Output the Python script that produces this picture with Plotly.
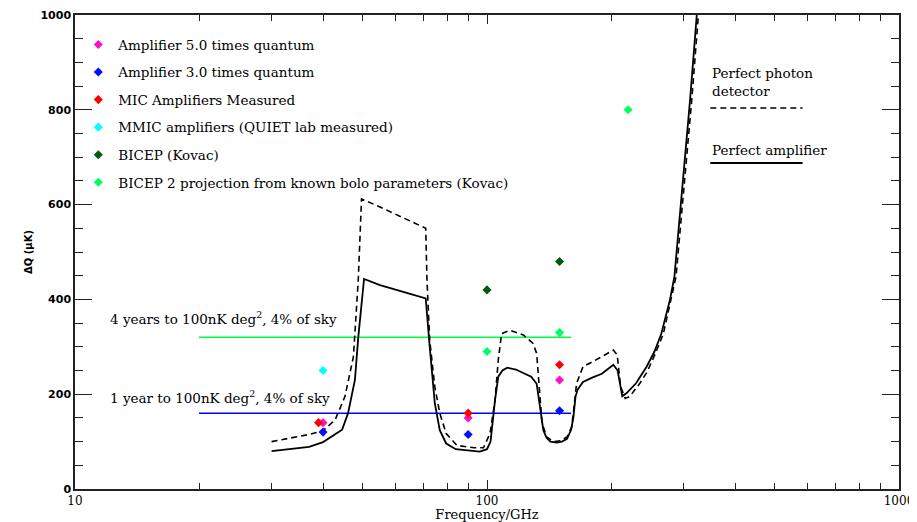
import plotly.graph_objects as go

# ---------------- data ----------------
amp_freq = [30, 37, 40, 43, 44.5, 46, 47.8, 48.7, 49.6, 50.3, 55, 61.5, 66, 71,
            72.6, 74.7, 76.8, 79.6, 84, 90, 96, 100, 102, 104.6, 106.5, 109, 112,
            117.5, 124, 128, 132, 134.5, 137, 139.5, 142.5, 147.7, 152, 156.4, 160,
            162, 164, 166, 171, 180, 190, 202.6, 207.5, 210, 213, 218, 230, 244,
            255, 265, 278, 285, 311, 323, 327]
amp_val = [80, 89, 99, 117, 125, 160, 230, 320, 392, 443, 430, 418, 410, 402,
           300, 181, 124, 96, 84, 81, 79, 84, 100, 188, 237, 250, 256,
           252, 243, 237, 222, 170, 124, 108, 100, 98, 100, 106, 125,
           150, 195, 210, 226, 235, 243, 262, 250, 225, 196, 202, 223, 258,
           290, 328, 399, 448, 820, 1000, 1060]

pho_freq = [30, 37, 40, 42.8, 45.2, 47.4, 48.7, 49.6, 55, 60, 65, 71, 71.5, 72.6,
            74.7, 76.8, 79.6, 84.5, 89.3, 93, 98, 101.7, 104.6, 106.5, 108.5, 113.7,
            122.5, 129.4, 132, 134.5, 136, 139.6, 145, 151, 156.4, 160.6, 163.7, 165,
            171, 181, 202.6, 207, 211, 216.5, 222, 235, 245, 256, 268, 287.6,
            314, 326, 330]
pho_val = [100, 115, 123, 146, 195, 279, 441, 612, 595, 580, 566, 550, 441, 314,
           216, 160, 117, 92, 89, 87, 87, 117, 188, 272, 328, 335,
           325, 307, 286, 188, 139, 110, 100, 102, 110, 131, 188, 223,
           258, 269, 293, 283, 216, 191, 195, 223, 248, 285, 328, 448,
           821, 1000, 1060]

# measured / projected points
series_names = [
    "Amplifier 5.0 times quantum",
    "Amplifier 3.0 times quantum",
    "MIC Amplifiers Measured",
    "MMIC amplifiers (QUIET lab measured)",
    "BICEP (Kovac)",
    "BICEP 2 projection from known bolo parameters (Kovac)",
]
series_colors = ["#ff10c8", "#0010ff", "#ff0000", "#00ffff", "#005a10", "#00ff60"]
series_x = [
    [40, 90, 150],
    [40, 90, 150],
    [39, 90, 150],
    [40],
    [100, 150],
    [100, 150, 220],
]
series_y = [
    [140, 150, 230],
    [120, 115, 165],
    [140, 160, 262],
    [250],
    [420, 480],
    [290, 330, 800],
]

# sensitivity targets
target_range = [20, 160]
target_4yr = 320
target_1yr = 160

x_major = [10, 100, 1000]
x_minor = [20, 30, 40, 50, 60, 70, 80, 90, 200, 300, 400, 500, 600, 700, 800, 900]

SERIF = "DejaVu Serif"
SANS = "DejaVu Sans"
DASH = "6px,4px"

fig = go.Figure()

fig.add_trace(go.Scatter(x=target_range, y=[target_4yr] * 2, mode="lines",
                         line=dict(color="#00ff40", width=1.5), showlegend=False))
fig.add_trace(go.Scatter(x=target_range, y=[target_1yr] * 2, mode="lines",
                         line=dict(color="#0000ff", width=1.5), showlegend=False))

fig.add_trace(go.Scatter(x=pho_freq, y=pho_val, mode="lines",
                         line=dict(color="black", width=1.6, dash=DASH),
                         showlegend=False))
fig.add_trace(go.Scatter(x=amp_freq, y=amp_val, mode="lines",
                         line=dict(color="black", width=1.8), showlegend=False))

for i, (n, c, xs, ys) in enumerate(zip(series_names, series_colors, series_x, series_y)):
    fig.add_trace(go.Scatter(x=xs, y=ys, mode="markers", name=n,
                             legendgroup=f"g{i}",
                             marker=dict(symbol="diamond", size=7, color=c)))

fig.add_annotation(x=1.08, y=361, xref="x", yref="y", xanchor="left",
                   text="4 years to 100nK deg<sup>2</sup>, 4% of sky", showarrow=False,
                   font=dict(family=SERIF, size=13.5, color="black"))
fig.add_annotation(x=1.08, y=194, xref="x", yref="y", xanchor="left",
                   text="1 year to 100nK deg<sup>2</sup>, 4% of sky", showarrow=False,
                   font=dict(family=SERIF, size=13.5, color="black"))

# right-hand key
fig.add_annotation(x=0.771, y=(489 - 82) / 474, xref="paper", yref="paper",
                   xanchor="left", yanchor="middle", align="left",
                   text="Perfect photon<br>detector", showarrow=False,
                   font=dict(family=SERIF, size=13.5, color="black"))
fig.add_shape(type="line", xref="paper", yref="paper",
              x0=0.771, x1=0.883, y0=(489 - 108) / 474, y1=(489 - 108) / 474,
              line=dict(color="black", width=1.6, dash=DASH))
fig.add_annotation(x=0.771, y=(489 - 150) / 474, xref="paper", yref="paper",
                   xanchor="left", yanchor="middle",
                   text="Perfect amplifier", showarrow=False,
                   font=dict(family=SERIF, size=13.5, color="black"))
fig.add_shape(type="line", xref="paper", yref="paper",
              x0=0.771, x1=0.883, y0=(489 - 163) / 474, y1=(489 - 163) / 474,
              line=dict(color="black", width=1.8))

# the page body adds an 8px margin, so the figure is sized to fit the window
fig.update_layout(
    width=909, height=514,
    margin=dict(l=67, r=18, t=7, b=33, autoexpand=False),
    paper_bgcolor="white", plot_bgcolor="white",
    legend=dict(x=0.004, y=0.97, xanchor="left", yanchor="top",
                bgcolor="rgba(0,0,0,0)", traceorder="grouped",
                tracegroupgap=7,
                font=dict(family=SERIF, size=13.5, color="black")),
    xaxis=dict(type="log", range=[1, 3], showgrid=False, zeroline=False,
               automargin=False,
               showline=True, linecolor="#222", linewidth=1.5, mirror="ticks",
               ticks="inside", ticklen=9, tickwidth=1.2, tickcolor="#222",
               tickmode="array", tickvals=x_major, ticktext=[str(v) for v in x_major],
               minor=dict(tickmode="array", tickvals=x_minor, ticks="inside",
                          ticklen=6, tickwidth=1.2, tickcolor="#222"),
               tickfont=dict(family=SERIF, size=12, color="black"),
               title=dict(text="Frequency/GHz", standoff=5,
                          font=dict(family=SERIF, size=13, color="black"))),
    yaxis=dict(range=[0, 1000], showgrid=False, zeroline=False,
               automargin=False,
               showline=True, linecolor="#222", linewidth=1.5, mirror="ticks",
               ticks="inside", ticklen=17, tickwidth=1.2, tickcolor="#222",
               tickmode="linear", tick0=0, dtick=200,
               minor=dict(tickmode="linear", tick0=0, dtick=50, ticks="inside",
                          ticklen=8, tickwidth=1.2, tickcolor="#222"),
               tickfont=dict(family=SANS, size=11, color="black", weight="bold"),
               title=dict(text="ΔQ (μK)", standoff=6,
                          font=dict(family=SANS, size=10, color="black", weight="bold"))),
)

fig.write_html("out.html")
